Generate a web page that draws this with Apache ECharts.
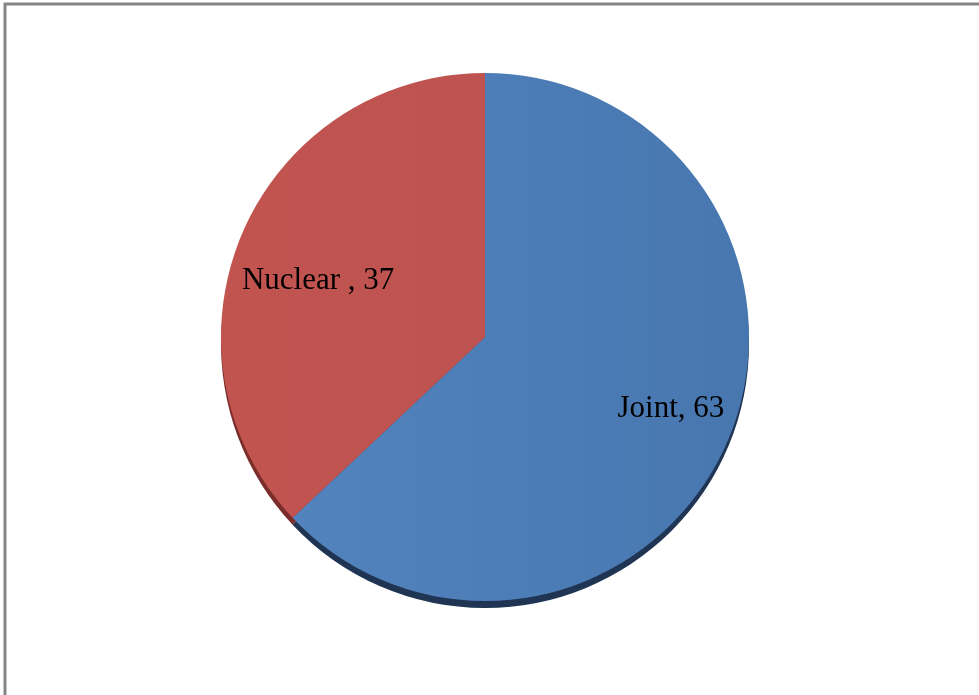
<!DOCTYPE html>
<html>
<head>
<meta charset="utf-8">
<script src="https://cdn.jsdelivr.net/npm/echarts@6/dist/echarts.min.js"></script>
<style>
  html, body { margin: 0; padding: 0; background: #fff; }
  #chart { width: 979px; height: 695px; }
</style>
</head>
<body>
<div id="chart"></div>
<script>
// Family type shares
const categories = ['Joint', 'Nuclear'];
const values = [63, 37];
const labelTexts = ['Joint, 63', 'Nuclear , 37'];

const faceColors = [
  { type: 'linear', x: 0, y: 0, x2: 1, y2: 0, colorStops: [{ offset: 0, color: '#5283bc' }, { offset: 1, color: '#4877b0' }] },
  { type: 'linear', x: 0, y: 0, x2: 1, y2: 0, colorStops: [{ offset: 0, color: '#c2544f' }, { offset: 1, color: '#bd5351' }] }
];
const rimColors = ['#1f3553', '#7a2d2b'];
const labelOffsets = [[62, 18], [-43, -3]];

const CX = 485, CY = 337, R = 264, DEPTH = 7;

const chart = echarts.init(document.getElementById('chart'), null, { renderer: 'canvas' });

chart.setOption({
  backgroundColor: '#ffffff',
  animation: false,
  graphic: [{
    type: 'rect',
    shape: { x: 5, y: 4, width: 1200, height: 1200 },
    style: { fill: 'none', stroke: '#868686', lineWidth: 3 },
    silent: true
  }],
  series: [
    {
      // darker rim beneath the pie face
      type: 'pie',
      center: [CX, CY + DEPTH],
      radius: [0, R],
      startAngle: 90,
      clockwise: true,
      silent: true,
      label: { show: false },
      labelLine: { show: false },
      data: categories.map((c, i) => ({
        name: c, value: values[i], itemStyle: { color: rimColors[i] }
      }))
    },
    {
      type: 'pie',
      center: [CX, CY],
      radius: [0, R],
      startAngle: 90,
      clockwise: true,
      labelLine: { show: false },
      itemStyle: { borderWidth: 0 },
      label: {
        show: true,
        position: 'inside',
        color: '#000',
        fontFamily: 'Liberation Serif',
        fontSize: 31
      },
      data: categories.map((c, i) => ({
        name: c,
        value: values[i],
        itemStyle: { color: faceColors[i] },
        label: { formatter: labelTexts[i], offset: labelOffsets[i] }
      }))
    }
  ]
});
</script>
</body>
</html>
